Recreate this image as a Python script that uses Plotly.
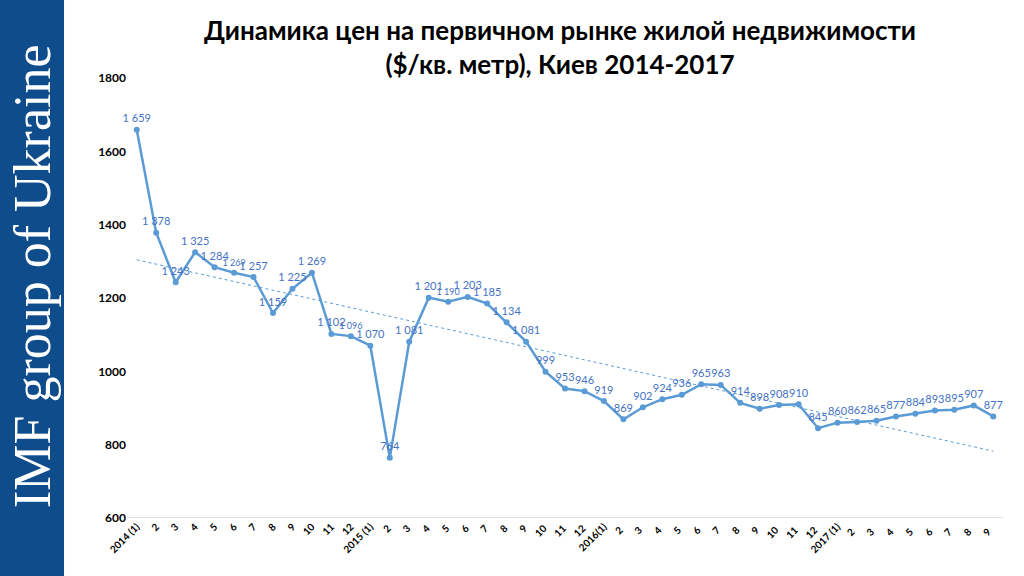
import numpy as np
import plotly.graph_objects as go

# Months, Jan 2014 .. Sep 2017
months = ["2014 (1)", "2", "3", "4", "5", "6", "7", "8", "9", "10", "11", "12",
          "2015 (1)", "2 ", "3 ", "4 ", "5 ", "6 ", "7 ", "8 ", "9 ", "10 ", "11 ", "12 ",
          "2016(1)", "2  ", "3  ", "4  ", "5  ", "6  ", "7  ", "8  ", "9  ", "10  ", "11  ", "12  ",
          "2017 (1)", "2   ", "3   ", "4   ", "5   ", "6   ", "7   ", "8   ", "9   "]
prices = [1659, 1378, 1243, 1325, 1284, 1269, 1257, 1159, 1225, 1269, 1102, 1096,
          1070, 764, 1081, 1201, 1190, 1203, 1185, 1134, 1081, 999, 953, 946,
          919, 869, 902, 924, 936, 965, 963, 914, 898, 908, 910, 845,
          860, 862, 865, 877, 884, 893, 895, 907, 877]
y_ticks = [600, 800, 1000, 1200, 1400, 1600, 1800]

LINE = "#5b9bd5"
LABEL = "#4472c4"
BAND = "#0f4c8c"

labels = [f"{v:,}".replace(",", " ") for v in prices]
# a few labels are squeezed smaller in the original
small = {5, 11, 16}
label_sizes = [9 if i in small else 11 for i in range(len(prices))]

# linear trend (like Excel trendline)
idx = np.arange(len(prices))
k, b = np.polyfit(idx, prices, 1)
trend = k * idx + b

fig = go.Figure()

fig.add_trace(go.Scatter(
    x=months, y=trend, mode="lines",
    line=dict(color=LINE, width=1, dash="dot"),
    hoverinfo="skip", showlegend=False
))

fig.add_trace(go.Scatter(
    x=months, y=prices, mode="lines+markers+text",
    line=dict(color=LINE, width=2.5),
    marker=dict(color=LINE, size=6),
    text=labels, textposition="top center", cliponaxis=False,
    textfont=dict(family="Lato", size=label_sizes, color=LABEL),
    showlegend=False
))

# blue band on the left with the vertical brand text
fig.add_shape(type="rect", xref="paper", yref="paper",
              x0=-0.15, x1=-0.0719, y0=-0.2, y1=1.25,
              fillcolor=BAND, line_width=0, layer="below")
fig.add_annotation(text="IMF group of Ukraine", xref="paper", yref="paper",
                   x=-0.1084, y=0.55, xanchor="center", yanchor="middle",
                   showarrow=False, textangle=-90,
                   font=dict(family="Liberation Serif", size=52, color="white"))

fig.add_annotation(text="<b>Динамика цен на первичном рынке жилой недвижимости<br>($/кв. метр), Киев 2014-2017</b>",
                   xref="paper", yref="paper", x=0.494, y=1.07,
                   xanchor="center", yanchor="middle", showarrow=False,
                   font=dict(family="Lato", size=26, color="black"))

fig.update_layout(
    width=1024, height=576,
    plot_bgcolor="white", paper_bgcolor="white",
    margin=dict(l=127, r=21, t=78, b=58),
    xaxis=dict(
        type="category", range=[-0.5, len(prices) - 0.5],
        showgrid=False, tickangle=-45,
        tickfont=dict(family="Lato", size=10, color="black", weight="bold"),
        showline=False, zeroline=False
    ),
    yaxis=dict(
        range=[600, 1800], tickvals=y_ticks,
        showgrid=False,
        tickfont=dict(family="Lato", size=12, color="black", weight="bold"),
        zeroline=False, showline=False, ticklen=0
    ),
)
fig.add_hline(y=600, line=dict(color="#d9d9d9", width=1.5))

fig.write_html("out.html", config={"displayModeBar": False},
               post_script="document.body.style.margin='0';")
